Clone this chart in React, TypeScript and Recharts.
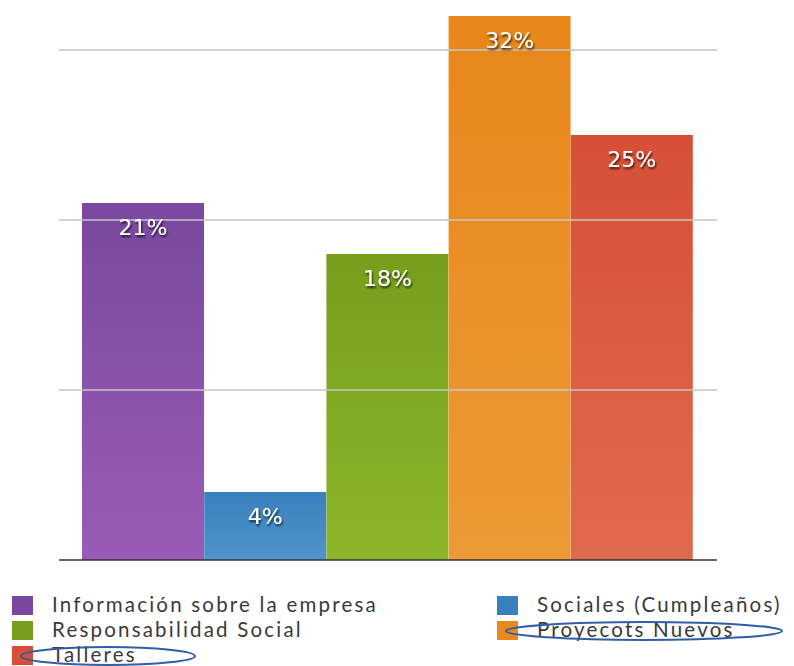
import React from "react";
import {
  BarChart,
  Bar,
  XAxis,
  YAxis,
  Cell,
  LabelList,
  ReferenceLine,
} from "recharts";

const CATEGORIES = [
  "Información sobre la empresa",
  "Sociales (Cumpleaños)",
  "Responsabilidad Social",
  "Proyecots Nuevos",
  "Talleres",
];
const VALUES = [21, 4, 18, 32, 25];
const GRID_TICKS = [10, 20, 30];
const COLORS = [
  ["#7a48a0", "#9a5cb6"],
  ["#3a80bd", "#4f94cc"],
  ["#769e1c", "#8cb52c"],
  ["#e8871a", "#eb9a35"],
  ["#d64f36", "#e06a4d"],
];

// names that are circled by hand in the legend
const CIRCLED = ["Talleres", "Proyecots Nuevos"];

const data = CATEGORIES.map((name, i) => ({ name, value: VALUES[i] }));

function ValueLabel(props: any) {
  const { x, y, width, value } = props;
  return (
    <text
      x={x + width / 2}
      y={y + 32}
      textAnchor="middle"
      fill="#ffffff"
      fontSize={22}
      fontFamily="'DejaVu Sans', sans-serif"
      filter="url(#labelShadow)"
    >
      {value}%
    </text>
  );
}

// legend slots: two columns, filled row by row
const legendPos = [
  { left: 12, top: 594, ellipse: null },
  { left: 497, top: 594, ellipse: null },
  { left: 12, top: 619, ellipse: null },
  { left: 497, top: 619, ellipse: { cx: 644, rx: 138 } },
  { left: 12, top: 644, ellipse: { cx: 108, rx: 87 } },
];

export default function App() {
  return (
    <div
      style={{
        position: "absolute",
        left: 0,
        top: 0,
        width: 794,
        height: 666,
        background: "#ffffff",
        overflow: "hidden",
      }}
    >
      <BarChart
        width={794}
        height={580}
        data={data}
        margin={{ top: 16, right: 77, left: 59, bottom: 20 }}
        barCategoryGap={0}
      >
        <defs>
          {COLORS.map((c, i) => (
            <linearGradient key={i} id={`grad${i}`} x1="0" y1="0" x2="0" y2="1">
              <stop offset="0%" stopColor={c[0]} />
              <stop offset="100%" stopColor={c[1]} />
            </linearGradient>
          ))}
          <filter id="labelShadow" x="-20%" y="-20%" width="140%" height="160%">
            <feDropShadow dx="1" dy="2" stdDeviation="1.2" floodColor="#000" floodOpacity="0.75" />
          </filter>
        </defs>
        <XAxis dataKey="name" hide padding={{ left: 23, right: 24 }} />
        <YAxis hide domain={[0, 32]} width={0} />
        {GRID_TICKS.map((t) => (
          <ReferenceLine key={t} y={t} stroke="#c6c6c6" strokeWidth={1.5} />
        ))}
        <Bar dataKey="value" isAnimationActive={false}>
          {data.map((_, i) => (
            <Cell key={i} fill={`url(#grad${i})`} />
          ))}
          <LabelList dataKey="value" content={<ValueLabel />} />
        </Bar>
        <ReferenceLine y={0} stroke="#333333" strokeWidth={1.5} />
      </BarChart>

      {CATEGORIES.map((name, idx) => (
        <div
          key={name}
          style={{
            position: "absolute",
            left: legendPos[idx].left,
            top: legendPos[idx].top,
            display: "flex",
            alignItems: "flex-start",
            height: 20,
          }}
        >
          <div
            style={{
              width: 21,
              height: 19,
              marginTop: 2,
              background: COLORS[idx][0],
              marginRight: 19,
            }}
          />
          <span
            style={{
              display: "block",
              height: 20,
              fontFamily: "Lato, sans-serif",
              fontSize: 20.5,
              lineHeight: "20px",
              color: "#3a3a3a",
              letterSpacing: 2.2,
              whiteSpace: "nowrap",
            }}
          >
            {name}
          </span>
        </div>
      ))}

      <svg
        width={794}
        height={666}
        style={{ position: "absolute", left: 0, top: 0, pointerEvents: "none" }}
      >
        {CATEGORIES.map((name, idx) => {
          const e = legendPos[idx].ellipse;
          if (!CIRCLED.includes(name) || !e) return null;
          return (
            <ellipse
              key={name}
              cx={e.cx}
              cy={legendPos[idx].top + 12}
              rx={e.rx}
              ry={9}
              fill="none"
              stroke="#2f5ea8"
              strokeWidth={2}
            />
          );
        })}
      </svg>
    </div>
  );
}
